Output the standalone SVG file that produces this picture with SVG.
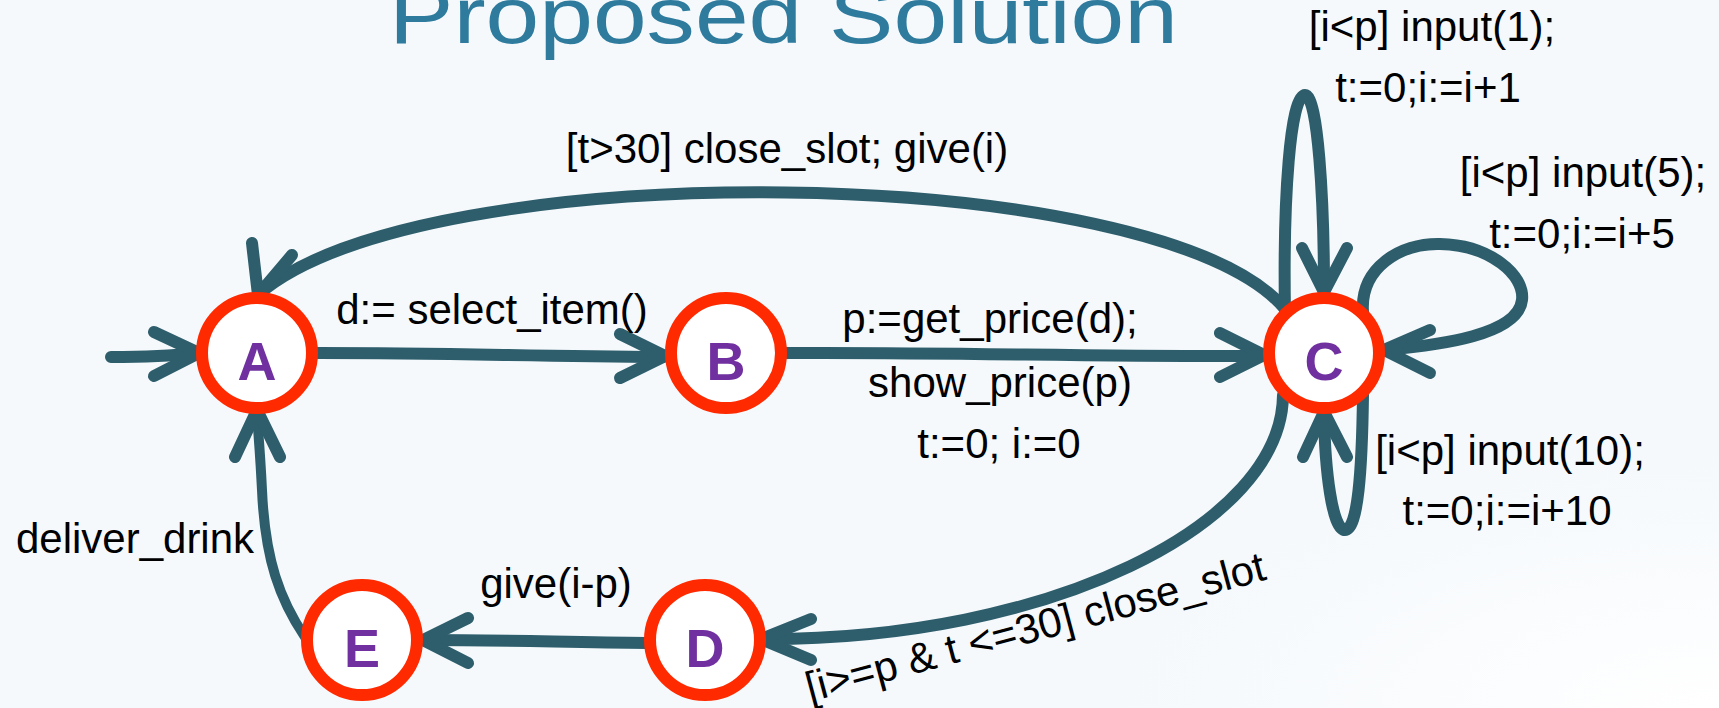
<svg xmlns="http://www.w3.org/2000/svg" width="1719" height="708" viewBox="0 0 1719 708">
<defs>
<radialGradient id="bg" cx="1" cy="1" r="0.35">
<stop offset="0" stop-color="#FFFFFF"/>
<stop offset="1" stop-color="#F5F9FC"/>
</radialGradient>
</defs>
<style>
.edge{fill:none;stroke:#2E5E6C;stroke-width:12;stroke-linecap:round;stroke-linejoin:round}
.head{fill:none;stroke:#2E5E6C;stroke-width:12;stroke-linecap:round;stroke-linejoin:miter}
.thin{stroke-width:10}
.ring{fill:#FFFFFF;stroke:#FF2A00;stroke-width:12}
.nl{font-family:"Liberation Sans",Arial,sans-serif;font-weight:bold;font-size:54px;fill:#7030A0;text-anchor:middle}
.lb{font-family:"Liberation Sans",Arial,sans-serif;font-size:42px;fill:#000000;text-anchor:middle}
.title{font-family:"Liberation Sans",Arial,sans-serif;font-size:80px;fill:#2E7B9E}
</style>
<rect x="0" y="0" width="1719" height="708" fill="#F5F9FC"/>
<rect x="0" y="0" width="1719" height="708" fill="url(#bg)"/>
<text class="title" x="389" y="43" textLength="789" lengthAdjust="spacingAndGlyphs">Proposed Solution</text>

<g id="connectors">
  <!-- initial -->
  <path class="edge" d="M111,357 C150,357 170,356 197,353"/>
  <path class="head" d="M154,332 L199,353 L154,376"/>
  <!-- A -> B -->
  <path class="edge" d="M318,353 C450,353 520,356 663,357"/>
  <path class="head" d="M620,334 L665,356 L620,378"/>
  <!-- B -> C -->
  <path class="edge" d="M787,353 C950,352 1100,357 1261,356"/>
  <path class="head" d="M1220,333 L1264,355 L1220,377"/>
  <!-- C -> A top -->
  <path class="edge" d="M1285,309 C1160,160 420,152 258,295"/>
  <path class="head" d="M252,243 L258,295 L292,255"/>
  <!-- C -> D -->
  <path class="edge" d="M1283,395 C1282,525 1050,640 763,639"/>
  <path class="head" d="M811,619 L761,639 L811,660"/>
  <!-- D -> E -->
  <path class="edge" d="M647,643 C560,642 500,640 425,640"/>
  <path class="head" d="M468,618 L423,640 L468,663"/>
  <!-- E -> A -->
  <path class="edge thin" d="M305,637 C280,600 265,560 262,490 C260,450 258,430 257,414"/>
  <path class="head" d="M235,457 L257,410 L280,457"/>
  <!-- C self loop top -->
  <path class="edge" d="M1285,312 C1283,200 1290,95 1305,95 C1318,95 1324,200 1324,290"/>
  <path class="head" d="M1302,248 L1324,292 L1347,248"/>
  <!-- C self loop right -->
  <path class="edge" d="M1363,312 C1360,268 1400,243 1440,244 C1490,245 1525,275 1522,300 C1518,335 1440,345 1386,350"/>
  <path class="head" d="M1430,330 L1384,350 L1430,373"/>
  <!-- C self loop bottom -->
  <path class="edge" d="M1363,395 C1362,470 1358,530 1345,530 C1332,530 1325,470 1324,414"/>
  <path class="head" d="M1303,457 L1324,412 L1347,457"/>
</g>

<g id="labels">
  <text class="lb" x="492" y="324">d:= select_item()</text>
  <text class="lb" x="990" y="333">p:=get_price(d);</text>
  <text class="lb" x="1000" y="397">show_price(p)</text>
  <text class="lb" x="999" y="458">t:=0; i:=0</text>
  <text class="lb" x="787" y="163">[t&gt;30] close_slot; give(i)</text>
  <text class="lb" x="1432" y="41">[i&lt;p] input(1);</text>
  <text class="lb" x="1428" y="102">t:=0;i:=i+1</text>
  <text class="lb" x="1583" y="187">[i&lt;p] input(5);</text>
  <text class="lb" x="1582" y="248">t:=0;i:=i+5</text>
  <text class="lb" x="1510" y="465">[i&lt;p] input(10);</text>
  <text class="lb" x="1507" y="525">t:=0;i:=i+10</text>
  <text class="lb" x="135" y="553">deliver_drink</text>
  <text class="lb" x="556" y="598">give(i-p)</text>
  <text class="lb" x="0" y="0" style="text-anchor:start" transform="translate(810,702) rotate(-15)">[i&gt;=p &amp; t &lt;=30] close_slot</text>
</g>

<g id="node-A"><circle class="ring" cx="257" cy="353" r="55"/><text class="nl" x="257" y="380">A</text></g>
<g id="node-B"><circle class="ring" cx="726" cy="353" r="55"/><text class="nl" x="726" y="380">B</text></g>
<g id="node-C"><circle class="ring" cx="1324" cy="353" r="55"/><text class="nl" x="1324" y="380">C</text></g>
<g id="node-D"><circle class="ring" cx="705" cy="640" r="55"/><text class="nl" x="705" y="667">D</text></g>
<g id="node-E"><circle class="ring" cx="362" cy="640" r="55"/><text class="nl" x="362" y="667">E</text></g>
</svg>
